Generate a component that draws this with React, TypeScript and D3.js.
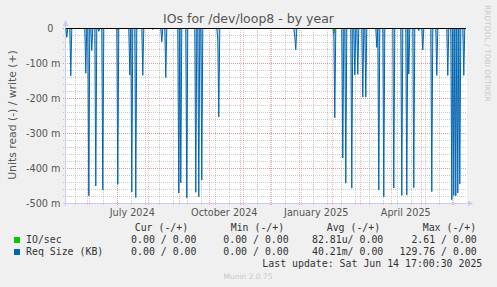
import React from "react";
import * as d3 from "d3";

const W = 497;
const H = 287;

const title = "IOs for /dev/loop8 - by year";
const yAxisTitle = "Units read (-) / write (+)";
const sideText = "RRDTOOL / TOBI OETIKER";
const footer = "Munin 2.0.75";
const lastUpdate = "Last update: Sat Jun 14 17:00:30 2025";

const yMajorTicks = [0, -0.1, -0.2, -0.3, -0.4, -0.5];
const yTickLabels = ["0", "-100 m", "-200 m", "-300 m", "-400 m", "-500 m"];

const xLabelMonths = ["2024-07-01", "2024-10-01", "2025-01-01", "2025-04-01"];
const xLabels = ["July 2024", "October 2024", "January 2025", "April 2025"];

// Req Size (KB) read side, daily spikes (units, m = 1e-3)
const reqDates = [
  "2024-05-12", "2024-05-16", "2024-05-31", "2024-06-03", "2024-06-06", "2024-06-10",
  "2024-06-13", "2024-06-17", "2024-07-02", "2024-07-14", "2024-07-16", "2024-07-20",
  "2024-07-27", "2024-08-06", "2024-08-15", "2024-08-19", "2024-09-01", "2024-09-03",
  "2024-09-09", "2024-09-18", "2024-09-21", "2024-09-24", "2024-10-10", "2024-10-11",
  "2024-12-26", "2024-12-27", "2025-02-04", "2025-02-12", "2025-02-15", "2025-02-21",
  "2025-02-24", "2025-02-27", "2025-03-04", "2025-03-07", "2025-03-18", "2025-03-20",
  "2025-03-25", "2025-04-04", "2025-04-12", "2025-04-17", "2025-04-19", "2025-04-24",
  "2025-04-29", "2025-05-03", "2025-05-12", "2025-05-17", "2025-05-28", "2025-06-01",
  "2025-06-03", "2025-06-05", "2025-06-07", "2025-06-09", "2025-06-13",
];
const reqValues = [
  -0.025, -0.135, -0.128, -0.478, -0.063, -0.45,
  -0.008, -0.461, -0.445, -0.133, -0.467, -0.483,
  -0.134, -0.003, -0.038, -0.14, -0.47, -0.441,
  -0.484, -0.468, -0.481, -0.433, -0.03, -0.253,
  -0.025, -0.061, -0.255, -0.37, -0.442, -0.456,
  -0.133, -0.131, -0.196, -0.196, -0.054, -0.461,
  -0.481, -0.456, -0.477, -0.476, -0.13, -0.455,
  -0.006, -0.061, -0.466, -0.134, -0.134, -0.489,
  -0.477, -0.478, -0.47, -0.444, -0.134,
];

// IO/sec read side
const ioDates = ["2024-07-02", "2025-02-03"];
const ioValues = [-0.004, -0.015];

const legendNames = ["IO/sec", "Req Size (KB)"];
const legendColors = ["#00CC00", "#0066B3"];
const legendHeaders = ["Cur (-/+)", "Min (-/+)", "Avg (-/+)", "Max (-/+)"];
const curVals = ["0.00 / 0.00", "0.00 / 0.00"];
const minVals = ["0.00 / 0.00", "0.00 / 0.00"];
const avgVals = ["82.81u/ 0.00", "40.21m/ 0.00"];
const maxVals = ["2.61 / 0.00", "129.76 / 0.00"];

const parse = d3.timeParse("%Y-%m-%d");
const START = new Date(2024, 4, 10, 17, 0, 0);
const END = new Date(2025, 5, 14, 17, 0, 0);

function buildSeries(dates: string[], values: number[]) {
  const m = new Map<number, number>();
  dates.forEach((d, i) => m.set(+(parse(d) as Date), values[i]));
  const days = d3.timeDay.range(new Date(2024, 4, 11), new Date(2025, 5, 15));
  return days.map((d) => ({ d, v: m.has(+d) ? (m.get(+d) as number) : 0 }));
}

export default function App() {
  const x = d3.scaleTime().domain([START, END]).range([65.5, 465.5]);
  const y = d3.scaleLinear().domain([-0.5, 0]).range([203.5, 28.5]);

  const reqSeries = buildSeries(reqDates, reqValues);
  const ioSeries = buildSeries(ioDates, ioValues);
  const line = d3
    .line<{ d: Date; v: number }>()
    .x((p) => x(p.d))
    .y((p) => y(p.v));
  const area = d3
    .area<{ d: Date; v: number }>()
    .x((p) => x(p.d))
    .y0(y(0))
    .y1((p) => y(p.v));

  const majorX = d3.timeMonth.range(START, END);
  const minorX = d3.timeDay.range(new Date(2024, 4, 20), END, 14);
  const minorY = d3.range(0, 26).map((i) => -i * 0.02);

  const gx = (d: Date) => Math.round(x(d)) + 0.5;

  const sans = "DejaVu Sans, sans-serif";
  const mono = "DejaVu Sans Mono, monospace";
  const minorCol = "rgba(140,140,140,0.45)";
  const majorCol = "rgba(255,77,77,0.42)";
  const axisCol = "#C8CCF4";

  return (
    <svg width={W} height={H} style={{ position: "absolute", left: 0, top: 0 }}>
      <rect x={0} y={0} width={W} height={H} fill="#F0F0F0" />
      <rect x={66} y={28} width={401} height={175} fill="#FFFFFF" />

      {/* minor grid */}
      {minorY.map((v, i) => (
        <line key={"my" + i} x1={63} x2={467} y1={y(v)} y2={y(v)} stroke={minorCol} strokeDasharray="1,1" />
      ))}
      {minorX.map((d, i) => (
        <line key={"mx" + i} x1={gx(d)} x2={gx(d)} y1={28} y2={206} stroke={minorCol} strokeDasharray="1,1" />
      ))}
      {/* major grid */}
      {yMajorTicks.map((v, i) => (
        <line key={"My" + i} x1={63} x2={467} y1={y(v)} y2={y(v)} stroke={majorCol} strokeDasharray="1,1" />
      ))}
      {majorX.map((d, i) => (
        <line key={"Mx" + i} x1={gx(d)} x2={gx(d)} y1={28} y2={206} stroke={majorCol} strokeDasharray="1,1" />
      ))}

      {/* axes */}
      <line x1={63} x2={469} y1={203.5} y2={203.5} stroke={axisCol} />
      <path d="M468,200.5 L473,203.5 L468,206.5 Z" fill={axisCol} />
      <line x1={65.5} x2={65.5} y1={206} y2={25} stroke={axisCol} />
      <path d="M62.5,26 L65.5,20 L68.5,26 Z" fill={axisCol} />

      {/* series */}
      <path d={area(reqSeries) || ""} fill="#0066B3" fillOpacity={0.3} stroke="none" />
      <path d={line(ioSeries) || ""} fill="none" stroke="#00CC00" strokeWidth={1} />
      <path d={line(reqSeries) || ""} fill="none" stroke="#0066B3" strokeWidth={1} />
      <line x1={66} x2={466} y1={y(0)} y2={y(0)} stroke="#000000" strokeWidth={1} />

      {/* y tick labels */}
      {yMajorTicks.map((v, i) => (
        <text
          key={"yl" + i}
          x={v === 0 ? 53.5 : 60.5}
          y={y(v) + 3.5}
          textAnchor="end"
          fontFamily={sans}
          fontSize={9.7}
          fill="#555555"
        >
          {yTickLabels[i]}
        </text>
      ))}

      {/* x labels centred mid-month */}
      {xLabelMonths.map((m, i) => {
        const s = parse(m) as Date;
        const e = d3.timeMonth.offset(s, 1);
        return (
          <text
            key={"xl" + i}
            x={(x(s) + x(e)) / 2}
            y={215.5}
            textAnchor="middle"
            fontFamily={sans}
            fontSize={9.7}
            fill="#555555"
          >
            {xLabels[i]}
          </text>
        );
      })}

      {/* titles */}
      <text x={248.5} y={23} textAnchor="middle" fontFamily={sans} fontSize={12.5} fill="#555555">
        {title}
      </text>
      <text
        transform="translate(15.5,115) rotate(-90)"
        textAnchor="middle"
        fontFamily={sans}
        fontSize={10.8}
        fill="#555555"
      >
        {yAxisTitle}
      </text>
      <text transform="translate(485,5) rotate(90)" fontFamily={sans} fontSize={7.5} fill="#C8C8C8">
        {sideText}
      </text>
      <text x={248} y={279} textAnchor="middle" fontFamily={sans} fontSize={7.5} fill="#C8C8C8">
        {footer}
      </text>

      {/* legend */}
      {legendHeaders.map((h, i) => (
        <text key={"lh" + i} x={[134.7, 230.7, 326.7, 422.7][i]} y={230.5} fontFamily={mono} fontSize={9.9} fill="#333333" xmlSpace="preserve">
          {h}
        </text>
      ))}
      {legendNames.map((n, r) => {
        const by = 243.3 + r * 12;
        return (
          <g key={"lr" + r}>
            <rect x={14} y={237 + r * 12} width={6} height={6} fill={legendColors[r]} />
            <text x={26} y={by} fontFamily={mono} fontSize={9.9} fill="#333333" xmlSpace="preserve">
              {n}
            </text>
            <text x={196.5} y={by} textAnchor="end" fontFamily={mono} fontSize={9.9} fill="#333333" xmlSpace="preserve">
              {curVals[r]}
            </text>
            <text x={288.7} y={by} textAnchor="end" fontFamily={mono} fontSize={9.9} fill="#333333" xmlSpace="preserve">
              {minVals[r]}
            </text>
            <text x={383.3} y={by} textAnchor="end" fontFamily={mono} fontSize={9.9} fill="#333333" xmlSpace="preserve">
              {avgVals[r]}
            </text>
            <text x={476.8} y={by} textAnchor="end" fontFamily={mono} fontSize={9.9} fill="#333333" xmlSpace="preserve">
              {maxVals[r]}
            </text>
          </g>
        );
      })}
      <text x={482.3} y={267} textAnchor="end" fontFamily={mono} fontSize={9.9} fill="#333333" xmlSpace="preserve">
        {lastUpdate}
      </text>
    </svg>
  );
}
